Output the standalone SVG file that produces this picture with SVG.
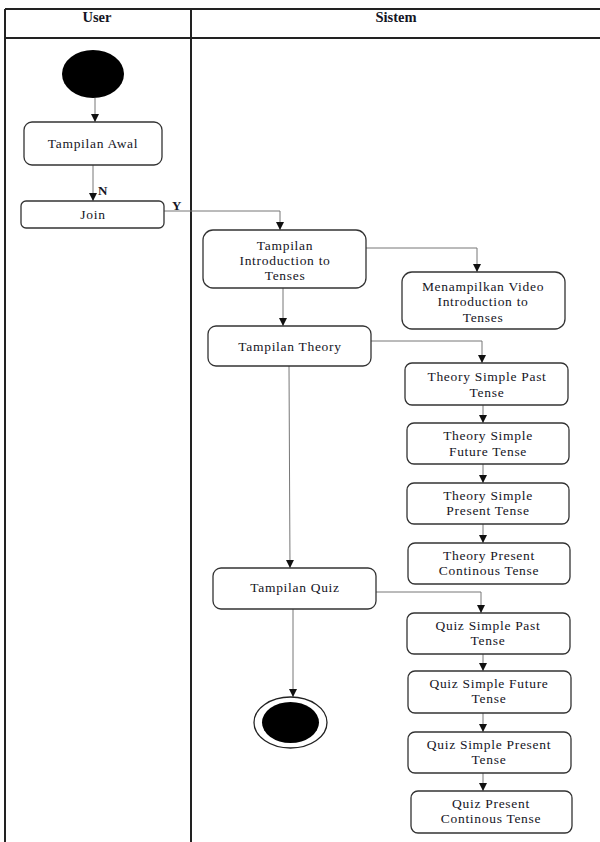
<svg xmlns="http://www.w3.org/2000/svg" width="600" height="842" viewBox="0 0 600 842">
<defs>
<marker id="arr" markerUnits="userSpaceOnUse" markerWidth="8" markerHeight="8" viewBox="0 0 8 8" refX="8" refY="4" orient="auto">
<path d="M0,0 L8,4 L0,8 Z" fill="#111"/>
</marker>
</defs>
<style>
.frame{stroke:#222;stroke-width:2;fill:none}
.box{fill:#fff;stroke:#333;stroke-width:1.3}
.t{font-size:13.5px;letter-spacing:0.7px;fill:#151525;text-anchor:middle}
.h{font-size:14.5px;font-weight:bold;fill:#151525;text-anchor:middle}
.c{fill:none;stroke:#777;stroke-width:1;marker-end:url(#arr)}
.lbl{font-size:13px;font-weight:bold;fill:#151525}
</style>
<rect width="600" height="842" fill="#fff"/>
<g font-family="'Liberation Serif', 'DejaVu Serif', serif">
<g id="swimlanes">
<line class="frame" x1="5" y1="9" x2="600" y2="9"/>
<line class="frame" x1="5" y1="38" x2="600" y2="38"/>
<line class="frame" x1="5" y1="9" x2="5" y2="842"/>
<line class="frame" x1="191" y1="9" x2="191" y2="842"/>
<text class="h" x="97" y="22">User</text>
<text class="h" x="396" y="22">Sistem</text>
</g>
<g id="connectors">
<path class="c" d="M95 98 V122"/>
<path class="c" d="M93 165 V201"/>
<text class="lbl" x="98" y="195">N</text>
<path class="c" d="M164 211 H280 V230"/>
<text class="lbl" x="172" y="210">Y</text>
<path class="c" d="M366 248 H477 V272"/>
<path class="c" d="M283 288 V326"/>
<path class="c" d="M371 341 H482 V363"/>
<path class="c" d="M483 405 V423"/>
<path class="c" d="M483 464 V483"/>
<path class="c" d="M483 524 V543"/>
<path class="c" d="M289 366 L290 568"/>
<path class="c" d="M376 592 H481 V613"/>
<path class="c" d="M483 654 V671"/>
<path class="c" d="M483 713 V732"/>
<path class="c" d="M483 773 V791"/>
<path class="c" d="M293 609 V697"/>
</g>
<g id="start"><ellipse cx="93" cy="74" rx="31" ry="24" fill="#000"/></g>
<g id="tampilan-awal"><rect class="box" x="24" y="122" width="138" height="43" rx="8"/><text class="t" x="93" y="148">Tampilan Awal</text></g>
<g id="join"><rect class="box" x="21" y="201" width="143" height="27" rx="5"/><text class="t" x="93" y="219">Join</text></g>
<g id="intro"><rect class="box" x="203" y="230" width="163" height="58" rx="10"/><text class="t" x="285" y="250">Tampilan</text><text class="t" x="285" y="265">Introduction to</text><text class="t" x="285" y="280">Tenses</text></g>
<g id="video"><rect class="box" x="402" y="272" width="163" height="57" rx="10"/><text class="t" x="483" y="291">Menampilkan Video</text><text class="t" x="483" y="306">Introduction to</text><text class="t" x="483" y="322">Tenses</text></g>
<g id="theory"><rect class="box" x="208" y="326" width="163" height="40" rx="8"/><text class="t" x="290" y="351">Tampilan Theory</text></g>
<g id="theory-past"><rect class="box" x="405" y="363" width="163" height="42" rx="7"/><text class="t" x="487" y="381">Theory Simple Past</text><text class="t" x="487" y="397">Tense</text></g>
<g id="theory-future"><rect class="box" x="407" y="423" width="162" height="41" rx="7"/><text class="t" x="488" y="440">Theory Simple</text><text class="t" x="488" y="456">Future Tense</text></g>
<g id="theory-present"><rect class="box" x="407" y="483" width="162" height="41" rx="7"/><text class="t" x="488" y="500">Theory Simple</text><text class="t" x="488" y="515">Present Tense</text></g>
<g id="theory-continous"><rect class="box" x="408" y="543" width="162" height="41" rx="7"/><text class="t" x="489" y="560">Theory Present</text><text class="t" x="489" y="575">Continous Tense</text></g>
<g id="quiz"><rect class="box" x="213" y="568" width="163" height="41" rx="8"/><text class="t" x="295" y="592">Tampilan Quiz</text></g>
<g id="quiz-past"><rect class="box" x="407" y="613" width="163" height="41" rx="7"/><text class="t" x="488" y="630">Quiz Simple Past</text><text class="t" x="488" y="645">Tense</text></g>
<g id="quiz-future"><rect class="box" x="408" y="671" width="163" height="42" rx="7"/><text class="t" x="489" y="688">Quiz Simple Future</text><text class="t" x="489" y="703">Tense</text></g>
<g id="quiz-present"><rect class="box" x="408" y="732" width="163" height="41" rx="7"/><text class="t" x="489" y="749">Quiz Simple Present</text><text class="t" x="489" y="764">Tense</text></g>
<g id="quiz-continous"><rect class="box" x="411" y="791" width="161" height="42" rx="7"/><text class="t" x="491" y="808">Quiz Present</text><text class="t" x="491" y="823">Continous Tense</text></g>
<g id="end"><ellipse cx="290.5" cy="722.5" rx="36.5" ry="25.5" fill="#fff" stroke="#222" stroke-width="1.3"/><ellipse cx="290.5" cy="722.5" rx="28.5" ry="20.5" fill="#000"/></g>
</g>
</svg>
